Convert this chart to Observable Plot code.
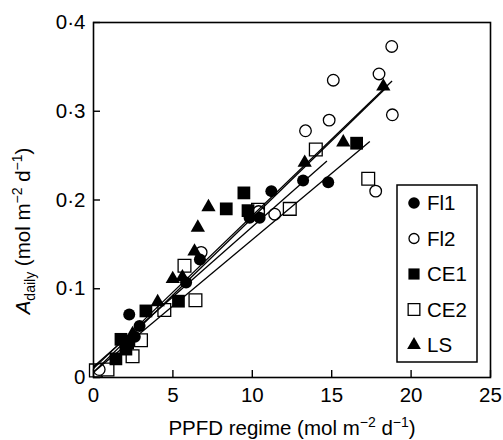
<!DOCTYPE html>
<html><head><meta charset="utf-8">
<script src="https://cdn.jsdelivr.net/npm/d3@7"></script>
<script src="https://cdn.jsdelivr.net/npm/@observablehq/plot@0.6"></script>
<style>
body{margin:0;background:#fff;}
svg{font-family:"Liberation Sans",Arial,Helvetica,sans-serif;}
</style>
</head><body><div id="chart"></div>
<script>
// ---- data ----
const seriesNames = ["Fl1", "Fl2", "CE1", "CE2", "LS"];

const fl1X = [2.25, 2.9, 2.6, 5.83, 6.7, 9.83, 10.46, 11.2, 13.2, 14.78];
const fl1Y = [0.071, 0.058, 0.046, 0.107, 0.133, 0.180, 0.180, 0.210, 0.222, 0.220];

const fl2X = [0.36, 6.78, 10.4, 11.41, 13.35, 14.84, 15.1, 17.77, 17.98, 18.78, 18.82];
const fl2Y = [0.009, 0.141, 0.187, 0.184, 0.278, 0.290, 0.335, 0.210, 0.342, 0.373, 0.296];

const ce1X = [1.41, 1.73, 2.04, 2.15, 3.3, 5.35, 8.36, 9.47, 9.73, 16.57];
const ce1Y = [0.021, 0.043, 0.032, 0.039, 0.075, 0.086, 0.190, 0.208, 0.188, 0.264];

const ce2X = [0.15, 0.88, 2.46, 2.99, 4.46, 5.73, 6.42, 10.36, 12.36, 14.0, 17.3];
const ce2Y = [0.008, 0.009, 0.024, 0.042, 0.076, 0.126, 0.087, 0.189, 0.190, 0.257, 0.224];

const lsX = [2.46, 4.04, 4.99, 5.6, 6.36, 6.57, 7.24, 13.3, 15.73, 18.25];
const lsY = [0.049, 0.085, 0.111, 0.113, 0.142, 0.169, 0.192, 0.242, 0.265, 0.328];

// fitted lines (end points)
const lineSeries = ["Fl2", "LS", "Fl1", "CE2"];
const lineX0 = [0, 0, 0, 0];
const lineY0 = [0.010, 0.006, 0.012, 0.006];
const lineX1 = [18.8, 18.4, 14.7, 17.4];
const lineY1 = [0.334, 0.326, 0.244, 0.266];

const xTicks = [0, 5, 10, 15, 20, 25];
const yTicks = [0, 0.1, 0.2, 0.3, 0.4];
const yTickLabels = ["0", "0·1", "0·2", "0·3", "0·4"];

// ---- build ----
const pts = (xs, ys, s) => xs.map((x, i) => ({x, y: ys[i], s}));
const lines = lineSeries.map((s, i) => ({s, x1: lineX0[i], y1: lineY0[i], x2: lineX1[i], y2: lineY1[i]}));

const styleOf = {
  Fl1: {symbol: "circle", fill: "black", stroke: "none", r: 6},
  Fl2: {symbol: "circle", fill: "white", stroke: "black", r: 5.8},
  CE1: {symbol: "square", fill: "black", stroke: "none", r: 7.2},
  CE2: {symbol: "square", fill: "white", stroke: "black", r: 7.2},
  LS:  {symbol: "triangle", fill: "black", stroke: "none", r: 5.3}
};
const dataOf = {
  Fl1: pts(fl1X, fl1Y, "Fl1"), Fl2: pts(fl2X, fl2Y, "Fl2"),
  CE1: pts(ce1X, ce1Y, "CE1"), CE2: pts(ce2X, ce2Y, "CE2"), LS: pts(lsX, lsY, "LS")
};
const drawOrder = ["CE2", "Fl2", "CE1", "Fl1", "LS"];
const FS = 20.5;

const plot = Plot.plot({
  width: 503, height: 440,
  marginLeft: 93, marginRight: 13, marginTop: 22, marginBottom: 63,
  x: {domain: [0, 25]},
  y: {domain: [0, 0.4]},
  style: {fontSize: FS + "px", fontFamily: "'Liberation Sans', Arial, sans-serif", color: "black", background: "white"},
  marks: [
    ...drawOrder.map(s => Plot.dot(dataOf[s], {
      x: "x", y: "y", symbol: styleOf[s].symbol, r: styleOf[s].r,
      fill: styleOf[s].fill, stroke: styleOf[s].stroke, strokeWidth: 1.3
    })),
    Plot.link(lines, {x1: "x1", y1: "y1", x2: "x2", y2: "y2", stroke: "black", strokeWidth: 1.3}),
    Plot.axisX({ticks: xTicks, tickSize: -7, tickPadding: 17, tickFormat: d => String(d), label: null, strokeWidth: 1.4}),
    Plot.axisY({ticks: yTicks, tickSize: -7, tickPadding: 15, tickFormat: d => yTickLabels[yTicks.indexOf(d)], label: null, strokeWidth: 1.4}),
    Plot.frame({stroke: "black", strokeWidth: 1.6})
  ]
});
document.getElementById("chart").appendChild(plot);

// ---- axis titles and legend ----
const svg = d3.select(plot);

const xl = svg.append("text").attr("x", 292).attr("y", 435).attr("text-anchor", "middle")
  .attr("font-size", FS).attr("fill", "black");
xl.append("tspan").text("PPFD regime (mol m");
xl.append("tspan").attr("dy", -8).attr("font-size", 14).text("−2");
xl.append("tspan").attr("dy", 8).text(" d");
xl.append("tspan").attr("dy", -8).attr("font-size", 14).text("−1");
xl.append("tspan").attr("dy", 8).text(")");

const yl = svg.append("text").attr("transform", "translate(30,231) rotate(-90)").attr("text-anchor", "middle")
  .attr("font-size", FS).attr("fill", "black");
yl.append("tspan").attr("font-style", "italic").text("A");
yl.append("tspan").attr("dy", 5).attr("font-size", 14).text("daily");
yl.append("tspan").attr("dy", -5).text(" (mol m");
yl.append("tspan").attr("dy", -8).attr("font-size", 14).text("−2");
yl.append("tspan").attr("dy", 8).text(" d");
yl.append("tspan").attr("dy", -8).attr("font-size", 14).text("−1");
yl.append("tspan").attr("dy", 8).text(")");

const lg = svg.append("g");
lg.append("rect").attr("x", 397).attr("y", 185).attr("width", 80).attr("height", 177)
  .attr("fill", "white").attr("stroke", "black").attr("stroke-width", 1.5);
const symMap = {circle: d3.symbolCircle, square: d3.symbolSquare, triangle: d3.symbolTriangle};
const legR = {Fl1: 5.8, Fl2: 5, CE1: 6.3, CE2: 6.6, LS: 5.1};
seriesNames.forEach((s, i) => {
  const cy = 203 + i * 35.5;
  const st = styleOf[s];
  lg.append("path").attr("transform", `translate(414,${cy})`)
    .attr("d", d3.symbol(symMap[st.symbol], Math.PI * legR[s] * legR[s])())
    .attr("fill", st.fill).attr("stroke", st.stroke).attr("stroke-width", 1.3);
  lg.append("text").attr("x", 427).attr("y", cy).attr("dy", "0.36em").attr("text-anchor", "start")
    .attr("font-size", FS).attr("fill", "black").text(s);
});
</script>
</body></html>
